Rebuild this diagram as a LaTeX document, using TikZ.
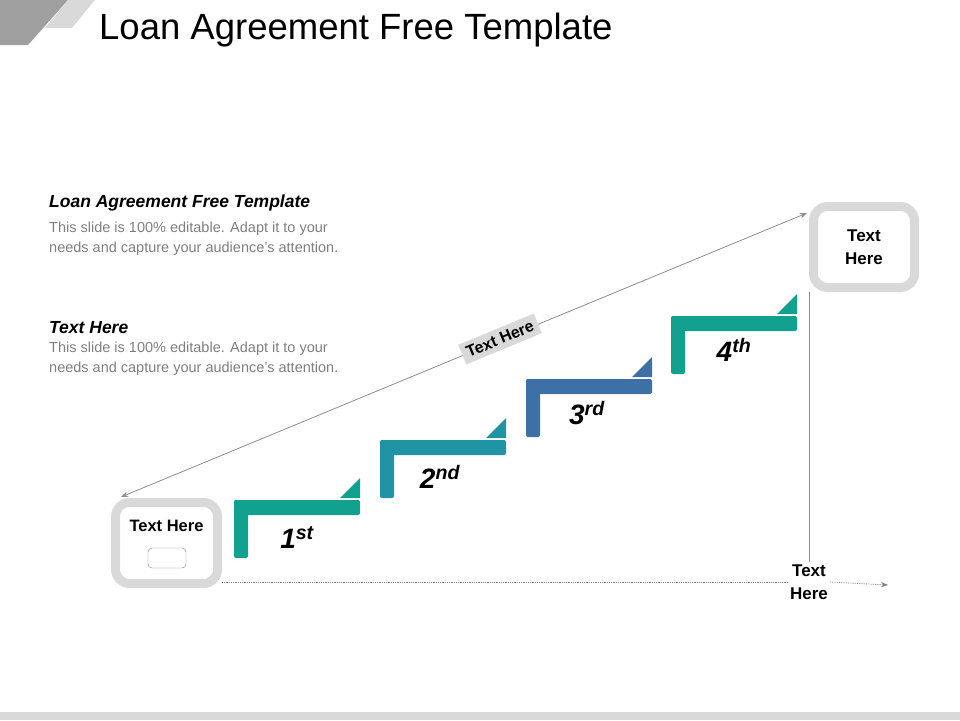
\documentclass[tikz,border=0pt]{standalone}
\usepackage{fontspec}
\setmainfont{Liberation Sans}
\usetikzlibrary{arrows.meta}
\definecolor{tealA}{HTML}{12A08F}
\definecolor{tealB}{HTML}{2093A5}
\definecolor{blueC}{HTML}{3D70A6}
\definecolor{boxg}{HTML}{D9D9D9}
\definecolor{txtg}{HTML}{7F7F7F}
\tikzset{
 ordlbl/.style={font=\bfseries\itshape\fontsize{28}{30}\selectfont},
 frame/.style={draw=boxg,line width=9pt,rounded corners=14pt,fill=white},
 conn/.style={draw=gray!90,line width=0.8pt},
}
\begin{document}
\begin{tikzpicture}[x=1pt,y=-1pt]
\useasboundingbox (0,0) rectangle (960,720);
\fill[gray!75] (0,0)--(68,0)--(28,45)--(0,45)--cycle;
\fill[gray!30] (68,0)--(95,0)--(72,28)--(45,28)--cycle;
\node[anchor=west,font=\fontsize{36.5}{40}\selectfont,inner sep=0pt] (title) at (99,30) {Loan Agreement Free Template};
\fill[boxg] (0,712) rectangle (960,720);
% left texts
\node[anchor=west,font=\bfseries\itshape\fontsize{17.5}{18}\selectfont,inner sep=0pt] (h1) at (49,203) {Loan Agreement Free Template};
\node[anchor=north west,align=left,text=txtg,font=\fontsize{14.5}{20}\selectfont,inner sep=0pt] (p1) at (49,222) {This slide is 100\% editable. Adapt it to your\\needs and capture your audience's attention.};
\node[anchor=west,font=\bfseries\itshape\fontsize{17.5}{18}\selectfont,inner sep=0pt] (h2) at (49,328) {Text Here};
\node[anchor=north west,align=left,text=txtg,font=\fontsize{14.5}{20}\selectfont,inner sep=0pt] (p2) at (49,342) {This slide is 100\% editable. Adapt it to your\\needs and capture your audience's attention.};
% boxes
\node[frame,minimum width=102pt,minimum height=81pt] (lb) at (166.5,543) {};
\node[font=\bfseries\fontsize{16.5}{18}\selectfont,inner sep=0pt] (lbt) at (166.5,526) {Text Here};
\draw[gray,rounded corners=4pt,fill=white] (148,548) rectangle (186,568);
\node[frame,minimum width=101pt,minimum height=81pt,align=center,font=\bfseries\fontsize{17}{23}\selectfont] (rb) at (864,247) {Text\\Here};
% steps
\foreach \x/\y/\c/\n in {234/500/tealA/a,380/440/tealB/b,526/379/blueC/c,671/316/tealA/d}{
  \fill[\c,rounded corners=2pt] (\x,\y) rectangle (\x+126,\y+15);
  \fill[\c,rounded corners=2pt] (\x,\y) rectangle (\x+14,\y+58);
  \fill[\c] (\x+106,\y-2)--(\x+126,\y-2)--(\x+126,\y-22)--cycle;
}
\node[ordlbl] (o1) at (297,538) {1\textsuperscript{st}};
\node[ordlbl] (o2) at (440,477) {2\textsuperscript{nd}};
\node[ordlbl] (o3) at (587,413) {3\textsuperscript{rd}};
\node[ordlbl] (o4) at (734,350) {4\textsuperscript{th}};
% connectors
\coordinate (ta) at (807,213);
\coordinate (tb) at (121,497);
\draw[conn,{Stealth[length=7pt]}-{Stealth[length=7pt]}] (tb)--(ta);
\node[fill=boxg,rotate=22.5,font=\bfseries\fontsize{16}{18}\selectfont,inner sep=5pt] (tl) at (500,339) {Text Here};
\node[align=center,font=\bfseries\fontsize{17}{23}\selectfont,fill=white,inner sep=2pt] (bt) at (809,582) {Text\\Here};
\coordinate (rs) at (809,292);
\draw[conn,line width=0.6pt] (rs)--(bt.north);
\coordinate (be) at (888,585);
\coordinate (ls) at (222,582);
\draw[gray,densely dotted,line width=0.8pt] (ls) -- (bt.west);
\draw[gray,densely dotted,line width=0.8pt,-{Stealth[length=7pt]}] (bt.east) -- (be);
\end{tikzpicture}
\end{document}
